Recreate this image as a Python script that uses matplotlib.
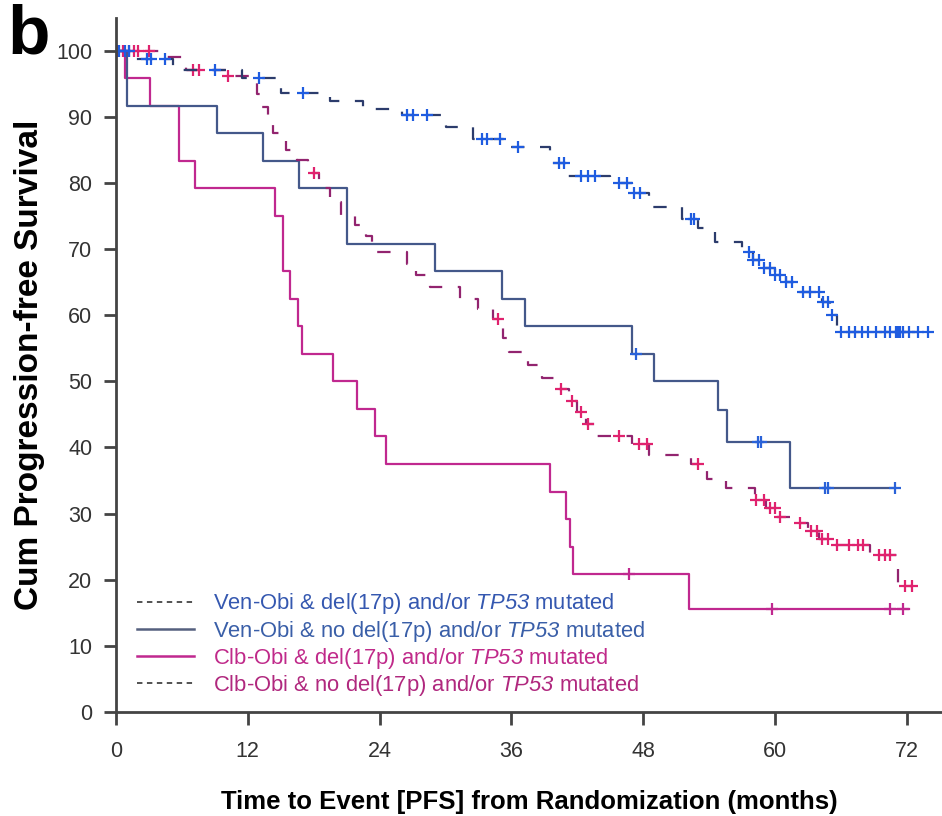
import numpy as np
import matplotlib.pyplot as plt
from matplotlib.lines import Line2D

plt.rcParams['font.family'] = ['Liberation Sans', 'DejaVu Sans']
plt.rcParams['mathtext.fontset'] = 'custom'
plt.rcParams['mathtext.rm'] = 'Liberation Sans:italic'
plt.rcParams['mathtext.it'] = 'Liberation Sans:italic'

# Ven-Obi dashed (top curve): step times / survival levels, censor times
ven_dash_t = [0, 1.5, 5.2, 11.5, 15, 19.5, 22.5, 26, 30, 32.5, 35.5, 39.5, 41, 45, 47,
              48.5, 51.5, 53, 54.5, 57, 58, 59, 60, 61, 62, 64.3, 65, 65.6]
ven_dash_s = [100, 98.8, 97.0, 95.8, 93.6, 92.4, 91.2, 90.2, 88.5, 86.7, 85.5, 83.0, 81.1, 80.0, 78.5,
              76.4, 74.5, 73.2, 71.0, 69.5, 68.3, 67.2, 66.0, 65.0, 63.5, 62.0, 60.0, 57.4]
ven_dash_cens = [0.3, 0.8, 1.2, 2.8, 3.2, 4.5, 9, 13, 17, 26.5, 27, 28.3, 33.3, 33.8, 35, 36.6,
                 40.3, 40.8, 42.3, 43, 43.6, 45.8, 46.5, 47.2, 47.7, 52.3, 52.6, 57.6, 58, 58.5,
                 59, 59.5, 60, 60.4, 61, 61.5, 62.5, 63.2, 64, 64.4, 64.8, 65.2, 66, 66.7, 67.3,
                 67.9, 68.5, 69.2, 70, 70.5, 71, 71.2, 71.4, 71.6, 72.2, 73, 73.9]

# Ven-Obi solid
ven_solid_t = [0, 1.0, 9.2, 13.4, 16.7, 21.0, 29.0, 35.1, 37.2, 47.0, 49.0, 54.8, 55.6, 61.4]
ven_solid_s = [100, 91.7, 87.5, 83.3, 79.2, 70.8, 66.7, 62.5, 58.3, 54.2, 50.0, 45.6, 40.8, 33.9]
ven_solid_cens = [47.3, 58.4, 58.7, 64.5, 64.8, 70.9]

# Clb-Obi solid
clb_solid_t = [0, 0.8, 3.1, 5.7, 7.2, 14.5, 15.2, 15.8, 16.6, 16.9, 19.8, 21.9, 23.6, 24.6,
               39.5, 41.0, 41.3, 41.6, 52.2]
clb_solid_s = [100, 95.8, 91.7, 83.3, 79.2, 75.0, 66.7, 62.5, 58.3, 54.2, 50.0, 45.8, 41.7, 37.5,
               33.3, 29.2, 25.0, 20.8, 15.6]
clb_solid_cens = [46.7, 59.7, 70.5, 71.6]
clb_solid_end = 72.2

# Clb-Obi dashed
clb_dash_t = [0, 4, 6.4, 10, 12.8, 13.3, 13.8, 14.3, 15.5, 16.5, 17.5, 18.5, 19.5, 20.5, 21.8,
              22.8, 23.3, 26.5, 27.3, 28.6, 31.3, 33, 34.3, 35.2, 35.8, 37.5, 38.8, 40.3, 41.2,
              42, 42.8, 43.8, 47, 48.5, 52.3, 53.8, 55.5, 58.2, 59.2, 60.2, 61.5, 63, 64, 65,
              68.6, 71.2]
clb_dash_s = [100, 99, 97, 96.2, 93.5, 91.5, 89.5, 87.5, 85, 83.4, 81.5, 79.2, 77.1, 75.0, 73.6,
              72.0, 69.5, 67.7, 66.0, 64.2, 62.5, 61.0, 59.4, 56.5, 54.4, 52.5, 50.5, 48.8, 47.0,
              45.3, 43.5, 41.8, 40.5, 38.8, 37.5, 35.3, 33.8, 32.1, 30.8, 29.5, 28.5, 27.3, 26.2,
              25.2, 23.7, 19.0]
clb_dash_cens = [0.1, 0.6, 1.2, 1.6, 2.0, 3.0, 7.0, 7.6, 10.2, 18.0, 34.8, 40.5, 41.5, 42.3,
                 43.0, 45.8, 47.6, 48.3, 53.0, 58.3, 59.0, 59.5, 60.0, 60.4, 62.3, 63.3, 63.8,
                 64.3, 64.8, 65.6, 66.7, 67.5, 68.0, 69.5, 70.0, 70.5, 71.8, 72.5]

legend_labels = [
    r"Ven-Obi & del(17p) and/or $\mathrm{TP53}$ mutated",
    r"Ven-Obi & no del(17p) and/or $\mathrm{TP53}$ mutated",
    r"Clb-Obi & del(17p) and/or $\mathrm{TP53}$ mutated",
    r"Clb-Obi & no del(17p) and/or $\mathrm{TP53}$ mutated",
]

fig = plt.figure(figsize=(9.42, 8.16), dpi=100)
ax = fig.add_axes([0.1231, 0.1275, 0.877, 0.851])


def draw_km(t, s, cens, end, line_color, mark_color, ls):
    t = np.array(t, dtype=float)
    s = np.array(s, dtype=float)
    cens = np.array(cens, dtype=float)
    tx = np.append(t, end)
    sx = np.append(s, s[-1])
    ax.step(tx, sx, where='post', color=line_color, lw=1.6, linestyle=ls)
    idx = np.searchsorted(t, cens, side='right') - 1
    ax.plot(cens, s[idx], linestyle='none', marker='+', ms=9, mew=1.6, color=mark_color)


dash = (0, (6, 7))
draw_km(clb_solid_t, clb_solid_s, clb_solid_cens, clb_solid_end, '#c0288f', '#c0288f', '-')
draw_km(ven_solid_t, ven_solid_s, ven_solid_cens, max(ven_solid_cens), '#44588a', '#2a62d8', '-')
draw_km(clb_dash_t, clb_dash_s, clb_dash_cens, max(clb_dash_cens), '#92246f', '#e0226e', dash)
draw_km(ven_dash_t, ven_dash_s, ven_dash_cens, max(ven_dash_cens), '#2c3c6c', '#1f5ce0', dash)

ax.set_xlim(0, 75.2)
ax.set_ylim(0, 105)
ax.set_xticks(np.arange(0, 73, 12))
ax.set_yticks(np.arange(0, 101, 10))
for side in ['top', 'right']:
    ax.spines[side].set_visible(False)
for side in ['left', 'bottom']:
    ax.spines[side].set_color('#444444')
    ax.spines[side].set_linewidth(2)
ax.tick_params(direction='out', length=9, width=2, color='#444444',
               labelsize=15.5, labelcolor='#333333', pad=8)
ax.tick_params(axis='x', pad=12)

ax.set_ylabel("Cum Progression-free Survival", fontsize=24, fontweight='bold', labelpad=8)
ax.set_xlabel("Time to Event [PFS] from Randomization (months)", fontsize=18.5,
              fontweight='bold', labelpad=20)
fig.text(0.008, 0.935, "b", fontsize=50, fontweight='bold')

handles = [
    Line2D([], [], color='#444444', lw=1.3, linestyle=(0, (3, 2.5))),
    Line2D([], [], color='#55607e', lw=1.8),
    Line2D([], [], color='#c0288f', lw=1.8),
    Line2D([], [], color='#444444', lw=1.3, linestyle=(0, (3, 2.5))),
]
leg = ax.legend(handles, legend_labels, loc='lower left', bbox_to_anchor=(0.025, 0.02),
                frameon=False, fontsize=15.8, handlelength=2.6, handletextpad=0.9,
                labelspacing=0.1, borderaxespad=0, borderpad=0)
for txt, c in zip(leg.get_texts(), ['#3558b0', '#3a5fa8', '#c02a8a', '#b0287e']):
    txt.set_color(c)

fig.savefig("out.png", dpi=100)
